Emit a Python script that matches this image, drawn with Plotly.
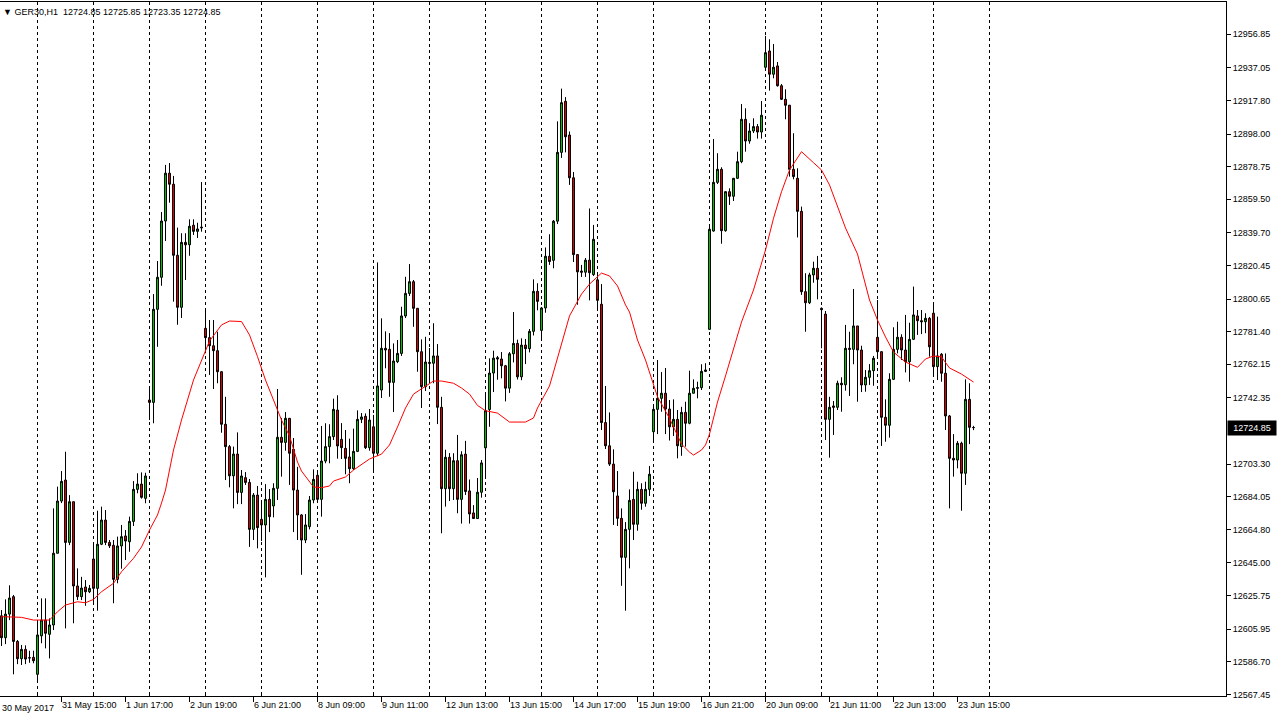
import plotly.graph_objects as go

symbol = "GER30,H1"

opens = [12613.8,12600.9,12614.8,12625.1,12598.7,12588.5,12594.0,12589.1,12589.3,12579.3,
12602.0,12611.3,12602.9,12608.4,12650.7,12681.5,12693.9,12657.1,12681.1,12631.4,
12625.1,12630.8,12628.0,12647.3,12630.0,12656.0,12670.3,12657.1,12655.4,12635.3,
12655.0,12660.9,12657.5,12669.5,12688.4,12691.5,12683.1,12741.1,12739.7,12794.6,
12813.5,12846.7,12874.9,12868.4,12826.5,12795.8,12834.1,12832.7,12844.2,12840.6,
12842.6,12783.4,12777.9,12773.1,12770.2,12757.8,12726.8,12713.6,12696.4,12709.2,
12686.6,12695.3,12692.5,12664.8,12685.0,12670.7,12667.4,12682.5,12678.6,12689.0,
12719.1,12716.1,12730.3,12712.0,12688.0,12673.3,12658.5,12666.4,12682.1,12696.7,
12682.5,12705.1,12713.6,12719.5,12735.2,12717.9,12712.6,12707.5,12700.6,12710.8,
12729.7,12731.5,12713.0,12725.3,12709.7,12747.0,12771.6,12771.0,12751.5,12763.7,
12768.6,12790.7,12804.0,12810.9,12795.2,12769.6,12749.0,12763.3,12762.8,12767.1,
12736.8,12688.8,12707.3,12688.8,12705.3,12682.5,12709.2,12687.5,12674.5,12671.2,
12686.7,12712.9,12735.5,12757.0,12766.1,12765.3,12761.3,12748.1,12768.4,12774.5,
12754.8,12773.5,12771.4,12781.6,12805.2,12782.2,12795.4,12825.9,12823.5,12846.6,
12887.2,12917.3,12897.4,12872.2,12826.9,12817.2,12816.5,12823.6,12815.1,12812.0,
12797.6,12727.8,12714.1,12703.3,12684.5,12671.3,12648.3,12664.8,12682.5,12667.8,
12688.4,12680.2,12688.4,12722.4,12735.6,12742.1,12745.1,12735.8,12725.3,12729.7,
12713.6,12733.8,12727.4,12745.1,12748.0,12748.4,12758.0,12782.8,12840.8,12869.5,
12877.2,12841.0,12864.0,12861.3,12871.9,12881.7,12906.7,12893.9,12899.8,12902.4,
12899.2,12937.4,12947.0,12933.3,12938.2,12926.5,12918.5,12915.0,12877.2,12871.9,
12852.4,12805.0,12798.5,12814.9,12818.8,12795.2,12791.8,12729.7,12737.6,12736.8,
12751.0,12750.1,12771.6,12771.0,12784.8,12770.6,12750.0,12754.5,12758.4,12778.1,
12769.6,12730.9,12726.2,12753.3,12771.0,12778.1,12770.6,12763.7,12776.9,12790.7,
12787.9,12787.3,12789.3,12792.3,12760.8,12768.1,12756.9,12731.7,12706.7,12705.7,
12715.6,12697.9,12741.5,12724.85]

highs = [12617.2,12623.5,12631.8,12626.1,12599.5,12596.6,12596.4,12593.2,12593.2,12611.3,
12624.1,12624.1,12612.3,12677.2,12690.0,12699.2,12710.6,12685.0,12681.1,12641.8,
12636.8,12634.9,12632.0,12656.7,12675.8,12678.2,12676.2,12658.5,12658.5,12660.5,
12667.4,12664.4,12672.3,12693.3,12697.9,12698.4,12698.2,12749.0,12803.6,12823.1,
12852.0,12879.8,12880.9,12873.3,12842.8,12839.5,12839.5,12847.7,12847.7,12845.7,
12869.7,12795.2,12788.3,12788.3,12781.4,12758.2,12743.0,12714.6,12713.6,12722.0,
12699.8,12698.6,12694.5,12686.2,12690.4,12680.9,12691.5,12688.6,12692.0,12747.6,
12730.5,12734.0,12730.5,12718.7,12701.7,12673.8,12673.8,12684.5,12700.2,12699.2,
12725.8,12727.4,12726.8,12741.9,12743.9,12727.5,12723.4,12718.3,12724.2,12735.0,
12733.4,12733.2,12735.8,12732.3,12822.3,12789.3,12781.6,12780.6,12774.5,12776.5,
12796.1,12813.8,12821.3,12811.9,12795.4,12776.9,12778.4,12771.8,12786.4,12774.1,
12743.0,12711.8,12709.8,12709.7,12720.5,12710.9,12717.0,12694.2,12679.1,12695.1,
12705.7,12745.8,12765.7,12770.2,12767.1,12769.4,12761.8,12769.4,12793.0,12776.7,
12777.5,12777.1,12783.0,12812.3,12810.0,12796.0,12831.1,12838.9,12847.3,12905.5,
12924.8,12919.8,12899.5,12875.6,12827.2,12820.8,12824.9,12854.1,12844.4,12814.9,
12809.5,12749.4,12733.8,12712.0,12699.2,12677.2,12669.1,12688.4,12698.8,12692.9,
12692.0,12692.9,12702.2,12738.2,12764.7,12757.6,12760.0,12741.1,12741.5,12735.2,
12737.1,12740.1,12758.4,12753.3,12751.9,12762.2,12762.8,12843.2,12895.1,12886.7,
12878.4,12864.4,12866.0,12872.1,12887.6,12915.7,12913.2,12904.4,12907.3,12903.9,
12917.5,12955.9,12953.9,12951.1,12940.5,12927.5,12924.4,12915.2,12898.5,12877.8,
12855.2,12815.9,12816.2,12822.7,12826.1,12795.7,12793.6,12743.0,12740.5,12752.5,
12754.5,12785.4,12781.4,12806.6,12784.8,12773.1,12758.8,12762.3,12767.1,12800.1,
12770.0,12741.5,12756.9,12784.0,12787.3,12779.9,12791.3,12786.7,12808.0,12794.2,
12794.2,12792.3,12790.1,12797.2,12790.3,12768.8,12768.6,12732.3,12721.0,12716.9,
12716.5,12753.3,12751.0,12725.85]

lows = [12596.0,12597.1,12611.3,12579.3,12585.3,12584.8,12585.3,12586.1,12585.8,12574.3,
12597.6,12594.6,12588.7,12605.4,12650.7,12680.3,12606.4,12655.5,12609.4,12623.1,
12623.1,12619.7,12627.2,12621.3,12616.8,12655.5,12655.5,12653.8,12621.2,12633.0,
12641.6,12646.7,12651.6,12666.8,12686.1,12682.9,12680.2,12729.3,12727.4,12772.5,
12808.5,12834.9,12857.5,12799.1,12785.5,12789.5,12811.9,12826.2,12838.5,12836.7,
12840.4,12768.7,12755.9,12747.6,12751.0,12721.8,12693.9,12689.6,12677.2,12679.7,
12679.7,12691.0,12654.5,12658.5,12653.6,12657.9,12636.5,12663.2,12671.9,12682.1,
12695.9,12711.2,12691.0,12663.2,12658.5,12638.0,12656.7,12664.8,12680.2,12681.5,
12672.3,12703.8,12703.8,12717.5,12706.5,12706.3,12697.3,12692.0,12699.8,12710.4,
12727.5,12712.2,12711.2,12699.8,12708.1,12742.3,12759.8,12743.0,12734.0,12762.9,
12767.1,12789.5,12802.5,12784.3,12757.8,12736.4,12746.4,12752.9,12751.0,12726.9,
12662.5,12678.2,12681.5,12682.1,12674.3,12668.2,12685.1,12668.2,12670.9,12670.9,
12683.5,12695.1,12725.3,12745.8,12753.1,12753.9,12740.3,12745.3,12763.3,12753.2,
12752.8,12762.3,12769.2,12779.2,12794.0,12777.5,12792.6,12820.8,12818.8,12844.9,
12883.9,12887.2,12868.0,12822.5,12797.3,12813.7,12813.7,12799.9,12814.3,12795.0,
12723.4,12712.2,12702.2,12667.4,12666.8,12631.5,12616.8,12641.8,12658.5,12664.0,
12676.4,12678.2,12684.5,12716.1,12721.0,12734.2,12721.0,12717.2,12719.9,12706.7,
12708.2,12713.6,12726.8,12745.1,12742.1,12747.0,12757.6,12782.4,12840.4,12868.5,
12833.3,12840.4,12856.2,12858.5,12871.5,12880.8,12887.6,12892.3,12898.6,12895.3,
12895.3,12937.0,12923.6,12930.9,12926.0,12918.1,12906.7,12872.9,12871.3,12837.0,
12803.1,12781.4,12797.7,12810.3,12800.5,12771.6,12717.5,12707.1,12720.5,12735.2,
12734.2,12746.6,12743.5,12762.2,12740.1,12745.8,12746.0,12750.0,12749.5,12765.7,
12714.0,12716.5,12718.9,12752.9,12768.6,12764.7,12757.4,12751.9,12776.5,12779.5,
12780.0,12780.5,12766.7,12754.9,12752.9,12751.9,12723.4,12677.2,12695.9,12700.8,
12675.8,12691.0,12715.1,12723.35]

closes = [12600.9,12614.8,12624.3,12598.7,12588.5,12594.0,12588.3,12589.0,12587.3,12602.5,
12611.3,12603.5,12608.4,12650.7,12681.5,12693.1,12657.1,12681.1,12631.4,12625.1,
12630.2,12628.0,12630.0,12630.0,12656.0,12670.3,12657.1,12655.1,12635.3,12655.0,
12660.5,12657.9,12669.5,12688.4,12691.5,12683.7,12696.3,12739.7,12794.6,12813.5,
12846.7,12874.9,12868.4,12826.5,12795.8,12834.1,12832.7,12843.6,12840.6,12842.0,
12843.0,12777.9,12773.1,12770.2,12757.8,12726.8,12713.6,12696.4,12709.2,12686.6,
12696.3,12692.5,12664.8,12685.0,12665.8,12667.4,12682.5,12672.3,12689.0,12719.1,
12716.1,12730.3,12709.7,12688.0,12673.3,12658.5,12667.4,12682.1,12694.3,12682.5,
12705.1,12713.6,12719.5,12735.6,12714.0,12713.0,12706.7,12700.6,12710.8,12729.7,
12731.1,12713.0,12729.3,12709.7,12749.4,12771.6,12770.6,12751.5,12764.1,12768.6,
12790.7,12804.0,12810.9,12795.2,12769.6,12749.0,12763.5,12762.8,12767.1,12736.8,
12688.8,12707.3,12688.8,12705.3,12682.5,12708.8,12687.1,12673.9,12671.2,12686.7,
12704.0,12734.8,12757.0,12765.8,12765.3,12761.3,12748.1,12768.4,12774.5,12754.8,
12773.5,12771.4,12781.6,12805.2,12799.3,12795.4,12825.9,12822.8,12846.6,12887.2,
12916.5,12896.4,12872.2,12826.9,12816.7,12816.5,12823.6,12816.2,12835.9,12799.9,
12727.8,12714.1,12703.3,12687.0,12671.3,12648.3,12664.8,12681.9,12667.8,12688.4,
12680.2,12688.4,12697.3,12735.6,12742.1,12745.1,12735.8,12725.3,12729.7,12714.1,
12733.8,12727.4,12745.1,12748.0,12748.4,12758.0,12758.8,12841.8,12869.5,12877.2,
12841.0,12864.0,12861.3,12871.9,12881.7,12906.7,12893.9,12899.8,12902.4,12899.2,
12909.1,12946.0,12933.3,12937.4,12926.5,12918.5,12915.0,12877.2,12872.9,12852.4,
12805.0,12798.5,12814.9,12818.8,12812.3,12794.4,12729.7,12736.8,12736.8,12751.0,
12750.1,12771.6,12771.0,12784.8,12770.6,12750.0,12754.5,12758.4,12765.7,12769.6,
12730.9,12726.2,12753.3,12771.0,12778.1,12770.6,12763.7,12776.9,12791.3,12787.9,
12787.3,12789.3,12772.5,12760.8,12767.1,12756.9,12731.7,12706.7,12705.7,12715.6,
12697.9,12741.5,12725.0,12724.85]

# moving average (bar index, value)
ma_bars = [0,2,5,8,12,14,16,19,21,23,25,28,30,33,35,37,39,40,41,43,45,48,50,52,55,57,60,62,64,66,
68,70,72,74,75,77,78,80,82,83,86,88,90,92,95,97,99,101,103,106,108,110,113,115,117,119,121,124,126,127,
131,133,134,137,138,140,142,145,147,150,152,154,156,157,159,161,162,164,167,170,172,173,175,176,177,179,181,183,185,188,
191,193,195,197,199,200,203,205,207,209,211,214,216,217,219,221,223,226,229,231,233,235,237,240,243]
ma_vals = [12613.3,12613.3,12612.9,12611.3,12611.3,12616.2,12620.2,12622.1,12621.5,12623.5,12628.0,12633.0,12639.8,12647.7,12654.4,
12664.4,12673.3,12680.3,12688.0,12711.6,12729.3,12752.9,12764.7,12775.9,12785.4,12787.7,12787.4,12779.5,12766.7,12752.9,
12741.1,12729.3,12719.9,12704.5,12699.2,12693.3,12689.8,12689.4,12690.4,12693.3,12695.7,12699.8,12703.3,12706.3,12709.2,
12714.6,12725.2,12736.4,12744.6,12749.1,12752.3,12752.3,12751.0,12748.2,12744.6,12737.9,12734.8,12733.4,12729.8,12728.1,
12728.1,12730.5,12736.4,12749.4,12757.6,12773.6,12790.7,12803.6,12809.5,12816.0,12814.3,12808.4,12797.2,12793.0,12776.5,
12764.7,12757.6,12743.0,12730.3,12715.1,12710.4,12708.6,12711.6,12714.6,12721.0,12739.9,12755.3,12770.6,12787.1,12806.0,
12829.6,12848.3,12864.0,12876.8,12884.5,12887.6,12881.1,12876.8,12868.0,12855.6,12842.6,12827.2,12809.5,12800.1,12788.3,
12778.3,12769.4,12763.5,12760.4,12765.3,12767.1,12766.5,12760.0,12756.4,12751.7]

y_ticks = [12567.45,12586.70,12605.95,12625.75,12645.00,12664.80,12684.05,12703.30,12742.35,12762.15,
           12781.40,12800.65,12820.45,12839.70,12859.50,12878.75,12898.00,12917.80,12937.05,12956.85]

x_labels = ["31 May 15:00","1 Jun 17:00","2 Jun 19:00","6 Jun 21:00","8 Jun 09:00","9 Jun 11:00",
            "12 Jun 13:00","13 Jun 15:00","14 Jun 17:00","15 Jun 19:00","16 Jun 21:00","20 Jun 09:00",
            "21 Jun 11:00","22 Jun 13:00","23 Jun 15:00"]
first_label = "30 May 2017"

bars = list(range(len(opens)))
label_bars = [15 + 16 * k for k in range(len(x_labels))]
grid_bars = [9 + 14 * k for k in range(18)]

FONT = "Liberation Sans, Arial, sans-serif"
XR = [-0.375, 306.125]

fig = go.Figure()
fig.add_trace(go.Candlestick(
    x=bars, open=opens, high=highs, low=lows, close=closes,
    increasing=dict(fillcolor="#00cc00", line=dict(color="black", width=1)),
    decreasing=dict(fillcolor="#e60000", line=dict(color="black", width=1)),
    whiskerwidth=0, hoverinfo="skip", showlegend=False,
))
fig.add_trace(go.Scatter(
    x=ma_bars, y=ma_vals, mode="lines", line=dict(color="#ff0000", width=1),
    hoverinfo="skip", showlegend=False,
))
# helper trace for the label axis
fig.add_trace(go.Scatter(x=[label_bars[0]], y=[None], xaxis="x2", mode="lines",
                         showlegend=False, hoverinfo="skip"))

fig.update_layout(
    width=1277, height=721,
    margin=dict(l=0, r=51, t=2, b=25),
    paper_bgcolor="white", plot_bgcolor="white",
    showlegend=False,
    font=dict(family=FONT, size=9, color="black"),
    xaxis=dict(
        range=XR, rangeslider=dict(visible=False),
        tickmode="array", tickvals=grid_bars, showticklabels=False,
        ticks="inside", ticklen=4, tickcolor="black", tickwidth=1,
        showgrid=True, gridcolor="black", gridwidth=1, griddash="3px,3px",
        zeroline=False, showline=True, linecolor="black", linewidth=1, mirror=True,
        fixedrange=True,
    ),
    xaxis2=dict(
        range=XR, overlaying="x", side="bottom",
        tickmode="array", tickvals=label_bars, ticktext=x_labels,
        ticklabelposition="outside right",
        ticks="outside", ticklen=5, tickcolor="black", tickwidth=1,
        showgrid=False, zeroline=False, showline=False,
        tickfont=dict(family=FONT, size=9, color="black"),
        fixedrange=True,
    ),
    yaxis=dict(
        range=[12566.5, 12975.9], side="right",
        tickmode="array", tickvals=y_ticks, ticktext=[f"{v:.2f}" for v in y_ticks],
        ticks="outside", ticklen=4, tickcolor="black", tickwidth=1,
        showgrid=False, zeroline=False, showline=True, linecolor="black", linewidth=1,
        tickfont=dict(family=FONT, size=9, color="black"),
        fixedrange=True,
    ),
    annotations=[
        dict(xref="paper", yref="paper", x=0, y=1, xanchor="left", yanchor="top",
             xshift=1, yshift=-3, showarrow=False,
             text=f"\u25bc {symbol}\u00a0\u00a0{opens[-1]:.2f} {highs[-1]:.2f} {lows[-1]:.2f} {closes[-1]:.2f}",
             font=dict(family=FONT, size=9, color="black")),
        dict(xref="paper", yref="y", x=1, y=closes[-1], xanchor="left", yanchor="middle",
             xshift=1, showarrow=False, text=f"{closes[-1]:.2f}",
             bgcolor="black", width=46, height=12, borderpad=1,
             font=dict(family=FONT, size=9, color="white")),
        dict(xref="paper", yref="paper", x=0, y=0, xanchor="left", yanchor="top",
             xshift=0, yshift=-5, showarrow=False, text=first_label,
             font=dict(family=FONT, size=9, color="black")),
    ],
)

fig.write_html("out.html", config={"displayModeBar": False},
               post_script="document.body.style.margin='0';")
